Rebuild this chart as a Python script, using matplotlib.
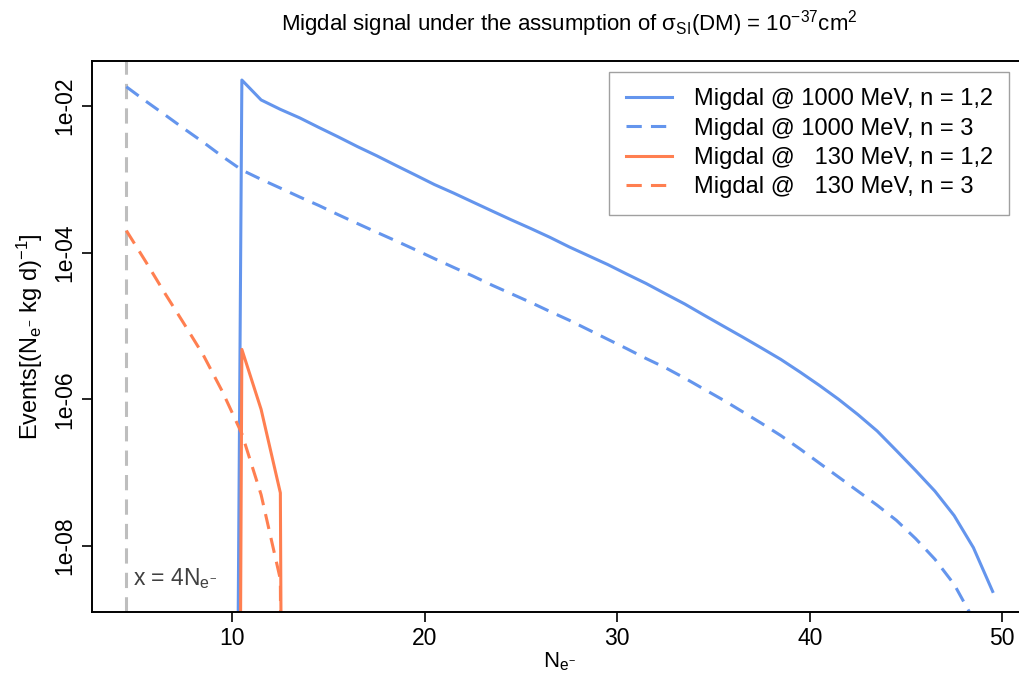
import numpy as np
import matplotlib
matplotlib.use("Agg")
import matplotlib.pyplot as plt

# Ne- bins (bin centres), one list per curve
ne = np.arange(4.5, 50.0, 1.0)

# Migdal @ 1000 MeV, n = 1,2  (starts at 9.5, where it is ~0)
ev_1000_n12 = [1e-40, 2.26e-2, 1.21e-2, 9.0e-3, 6.9e-3, 5.1e-3, 3.8e-3, 2.8e-3,
               2.1e-3, 1.55e-3, 1.15e-3, 8.5e-4, 6.5e-4, 4.9e-4, 3.7e-4, 2.8e-4,
               2.14e-4, 1.62e-4, 1.2e-4, 9.1e-5, 6.9e-5, 5.1e-5, 3.8e-5, 2.75e-5,
               2.0e-5, 1.41e-5, 1.0e-5, 7.1e-6, 5.0e-6, 3.5e-6, 2.35e-6, 1.55e-6,
               1.0e-6, 6.2e-7, 3.7e-7, 2.0e-7, 1.07e-7, 5.6e-8, 2.6e-8, 9.5e-9,
               2.4e-9]
# Migdal @ 1000 MeV, n = 3  (4.5 .. 48.5)
ev_1000_n3 = [1.83e-2, 1.17e-2, 7.6e-3, 4.9e-3, 3.2e-3, 2.04e-3, 1.34e-3, 1.0e-3,
              7.6e-4, 5.75e-4, 4.4e-4, 3.3e-4, 2.5e-4, 1.9e-4, 1.45e-4, 1.1e-4,
              8.3e-5, 6.3e-5, 4.8e-5, 3.6e-5, 2.75e-5, 2.1e-5, 1.58e-5, 1.2e-5,
              8.9e-6, 6.6e-6, 4.9e-6, 3.6e-6, 2.7e-6, 1.95e-6, 1.38e-6, 9.8e-7,
              6.8e-7, 4.7e-7, 3.2e-7, 2.1e-7, 1.35e-7, 8.7e-8, 5.6e-8, 3.6e-8,
              2.24e-8, 1.26e-8, 6.6e-9, 3.0e-9, 1.0e-9]
# Migdal @ 130 MeV, n = 1,2  (9.5 .. 13.5)
ev_130_n12 = [1e-60, 4.8e-6, 7.3e-7, 5.3e-8, 1e-60]
# Migdal @ 130 MeV, n = 3  (4.5 .. 13.5)
ev_130_n3 = [2.0e-4, 7.6e-5, 2.8e-5, 1.07e-5, 4.0e-6, 1.26e-6, 3.4e-7, 5.0e-8, 3.5e-9, 1e-60]

threshold = 4.5
labels = ["Migdal @ 1000 MeV, n = 1,2", "Migdal @ 1000 MeV, n = 3",
          "Migdal @   130 MeV, n = 1,2", "Migdal @   130 MeV, n = 3"]

blue = "#6495ED"
coral = "#FF7F50"

plt.rcParams["font.family"] = ["Liberation Sans", "DejaVu Sans"]
plt.rcParams["mathtext.fontset"] = "custom"
plt.rcParams["mathtext.rm"] = "Liberation Sans"
plt.rcParams["mathtext.it"] = "Liberation Sans:italic"
plt.rcParams["mathtext.sf"] = "Liberation Sans"

W, H = 1019, 673
fig = plt.figure(figsize=(W / 100, H / 100), dpi=100)

# axes box in pixels (right side runs off the picture like the original)
left, right, top, bottom = 91.7, 1027.3, 60.7, 611.7
ax = fig.add_axes([left / W, 1 - bottom / H, (right - left) / W, (bottom - top) / H])

lw = 2.2
dash = (5, 3)
ax.plot(ne[5:5 + len(ev_1000_n12)], ev_1000_n12, color=blue, lw=lw, label=labels[0])
ax.plot(ne[:len(ev_1000_n3)], ev_1000_n3, color=blue, lw=lw, dashes=dash, label=labels[1])
ax.plot(ne[5:5 + len(ev_130_n12)], ev_130_n12, color=coral, lw=lw, label=labels[2])
ax.plot(ne[:len(ev_130_n3)], ev_130_n3, color=coral, lw=lw, dashes=dash, label=labels[3])

ax.axvline(threshold, color="#BEBEBE", lw=lw, dashes=dash, zorder=0)
ax.text(threshold + 0.35, 3.6e-9, r"x = 4N$_{\mathregular{e^{-}}}$", color="#404040",
        fontsize=16.5, va="center", ha="left")

ax.set_yscale("log")
ax.set_xlim(2.7, 51.3)
ax.set_ylim(10 ** -8.896, 10 ** -1.382)

ax.set_xticks([10, 20, 30, 40, 50])
ax.set_yticks([1e-8, 1e-6, 1e-4, 1e-2])
ax.set_yticklabels(["1e-08", "1e-06", "1e-04", "1e-02"], rotation=90, va="center")
ax.yaxis.set_minor_locator(matplotlib.ticker.NullLocator())
ax.tick_params(labelsize=16.5, length=7, width=1.2, direction="out", pad=4)
for s in ax.spines.values():
    s.set_linewidth(1.4)

ax.set_xlabel(r"N$_{\mathregular{e^{-}}}$", fontsize=16, labelpad=0)
ax.set_ylabel(r"Events[(N$_{\mathregular{e^{-}}}$ kg d)$^{\mathregular{-1}}$]", fontsize=17, labelpad=6)

fig.text(569 / W, 1 - 24 / H,
         r"Migdal signal under the assumption of σ$_{\mathregular{SI}}$(DM) = 10$^{\mathregular{-37}}$cm$^{\mathregular{2}}$",
         ha="center", va="center", fontsize=16)

leg = ax.legend(loc="upper left", bbox_to_anchor=(609.3 / W, 1 - 71.7 / H),
                bbox_transform=fig.transFigure, fontsize=17, frameon=True,
                fancybox=False, borderaxespad=0, handlelength=1.95,
                handletextpad=0.93, labelspacing=0.31, borderpad=0.7)
leg.get_frame().set_edgecolor("#888888")
leg.get_frame().set_linewidth(1.0)

fig.savefig("out.png", dpi=100)
